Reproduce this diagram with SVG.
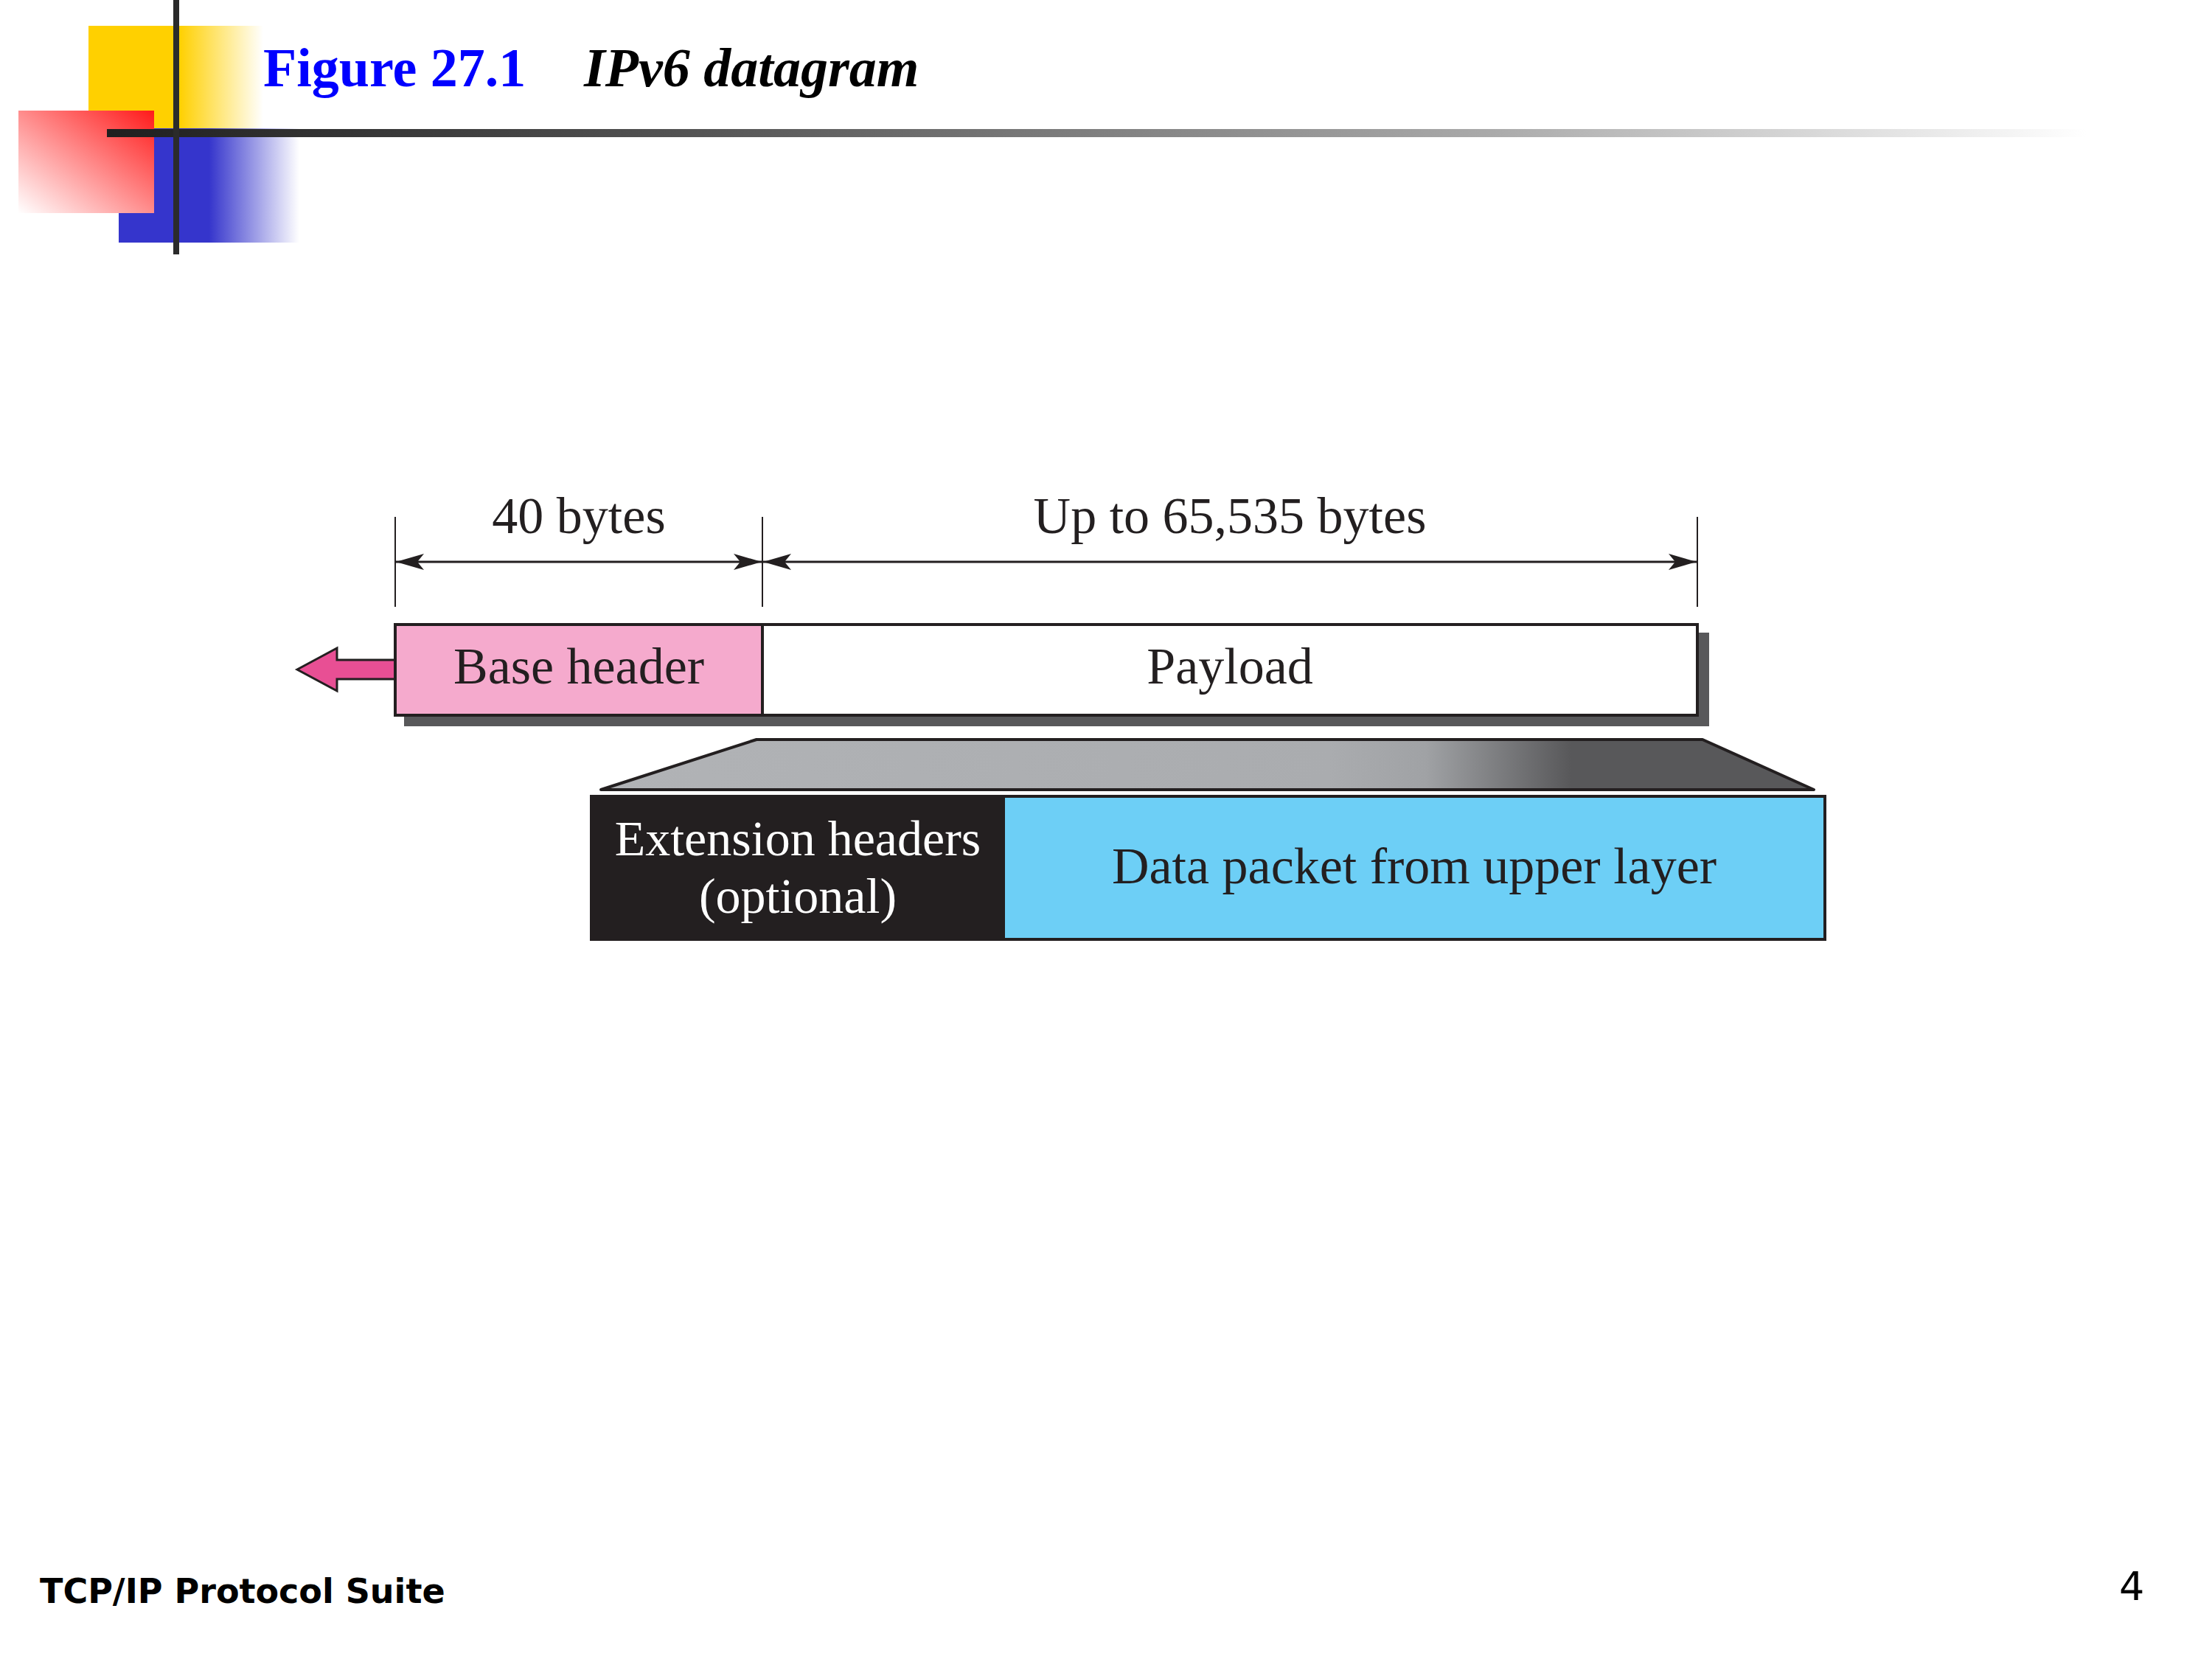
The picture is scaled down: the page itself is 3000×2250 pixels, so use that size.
<svg xmlns="http://www.w3.org/2000/svg" width="3000" height="2250" viewBox="0 0 3000 2250">
<defs>
<linearGradient id="gYellow" x1="0" y1="0" x2="1" y2="0">
<stop offset="0" stop-color="#ffd000"/><stop offset="0.52" stop-color="#ffd000"/><stop offset="1" stop-color="#ffd000" stop-opacity="0"/>
</linearGradient>
<linearGradient id="gBlue" x1="0" y1="0" x2="1" y2="0">
<stop offset="0" stop-color="#3535cc"/><stop offset="0.5" stop-color="#3535cc"/><stop offset="1" stop-color="#3535cc" stop-opacity="0"/>
</linearGradient>
<linearGradient id="gRed" x1="1" y1="0" x2="0" y2="1">
<stop offset="0" stop-color="#ff1a1a"/><stop offset="1" stop-color="#ffffff"/>
</linearGradient>
<linearGradient id="gLine" gradientUnits="userSpaceOnUse" x1="145" y1="0" x2="2830" y2="0">
<stop offset="0" stop-color="#1f1f1f"/><stop offset="0.3" stop-color="#555"/><stop offset="0.7" stop-color="#aaa"/><stop offset="1" stop-color="#fff"/>
</linearGradient>
<linearGradient id="gTrap" gradientUnits="userSpaceOnUse" x1="815" y1="0" x2="2460" y2="0">
<stop offset="0" stop-color="#b1b3b6"/><stop offset="0.6" stop-color="#aaacaf"/><stop offset="0.68" stop-color="#a0a2a5"/><stop offset="0.8" stop-color="#58585a"/><stop offset="1" stop-color="#58585a"/>
</linearGradient>
<marker id="arr" markerUnits="userSpaceOnUse" markerWidth="40" markerHeight="24" viewBox="0 0 40 24" refX="38" refY="12" orient="auto-start-reverse">
<path d="M0,1 L38,12 L0,23 L9,12 Z" fill="#231f20"/>
</marker>
<style>
.lbl{font-family:"Liberation Serif","Times New Roman",serif;font-size:70px;fill:#231f20;text-anchor:middle}
.ext{font-size:68px;fill:#ffffff}
.box{stroke:#231f20;stroke-width:4}
.dim{stroke:#231f20;stroke-width:3;fill:none}
.tick{stroke:#231f20;stroke-width:2}
</style>
</defs>
<rect width="3000" height="2250" fill="#fff"/>

<g id="decoration">
<rect x="120" y="35" width="237" height="145" fill="url(#gYellow)"/>
<rect x="161" y="174" width="245" height="155" fill="url(#gBlue)"/>
<rect x="25" y="150" width="184" height="139" fill="url(#gRed)"/>
<rect x="145" y="175" width="2685" height="11" fill="url(#gLine)"/>
<rect x="235" y="0" width="8" height="345" fill="#2b2b2b"/>
</g>

<g id="title">
<text x="357" y="117" font-family="Liberation Serif, serif" font-weight="bold" font-size="74" fill="#0000ff">Figure 27.1</text>
<text x="792" y="117" font-family="Liberation Serif, serif" font-weight="bold" font-style="italic" font-size="74" fill="#000">IPv6 datagram</text>
</g>

<g id="connectors">
<line class="tick" x1="536" y1="701" x2="536" y2="823"/>
<line class="tick" x1="1034" y1="701" x2="1034" y2="823"/>
<line class="tick" x1="2302" y1="701" x2="2302" y2="823"/>
<line class="dim" x1="537" y1="762" x2="1033" y2="762" marker-start="url(#arr)" marker-end="url(#arr)"/>
<line class="dim" x1="1035" y1="762" x2="2301" y2="762" marker-start="url(#arr)" marker-end="url(#arr)"/>
<polygon id="out-arrow" points="403,908 457,879 457,895 536,895 536,921 457,921 457,937" fill="#e84f94" stroke="#231f20" stroke-width="3"/>
</g>

<g id="labels">
<text class="lbl" x="785" y="723">40 bytes</text>
<text class="lbl" x="1668" y="723">Up to 65,535 bytes</text>
</g>

<g id="shadow">
<rect x="548" y="858" width="1770" height="127" fill="#58585a"/>
</g>

<g id="base-header">
<rect class="box" x="536" y="847" width="498" height="123" fill="#f5aacd"/>
<text class="lbl" x="785" y="927">Base header</text>
</g>

<g id="payload">
<rect class="box" x="1034" y="847" width="1268" height="123" fill="#fff"/>
<text class="lbl" x="1668" y="927">Payload</text>
</g>

<g id="expansion">
<polygon points="1026,1003 2309,1003 2460,1071 815,1071" fill="url(#gTrap)" stroke="#231f20" stroke-width="4" stroke-linejoin="round"/>
</g>

<g id="extension-headers">
<rect class="box" x="802" y="1080" width="559" height="194" fill="#231f20"/>
<text class="lbl ext" x="1082" y="1160">Extension headers</text>
<text class="lbl ext" x="1082" y="1238">(optional)</text>
</g>

<g id="data-packet">
<rect class="box" x="1361" y="1080" width="1114" height="194" fill="#6dcff6"/>
<text class="lbl" x="1918" y="1198">Data packet from upper layer</text>
</g>

<g id="footer">
<text x="54" y="2174" font-family="DejaVu Sans, Verdana, sans-serif" font-weight="bold" font-size="46" fill="#000">TCP/IP Protocol Suite</text>
<text x="2874" y="2170" font-family="DejaVu Sans, Verdana, sans-serif" font-size="54" fill="#000">4</text>
</g>
</svg>
